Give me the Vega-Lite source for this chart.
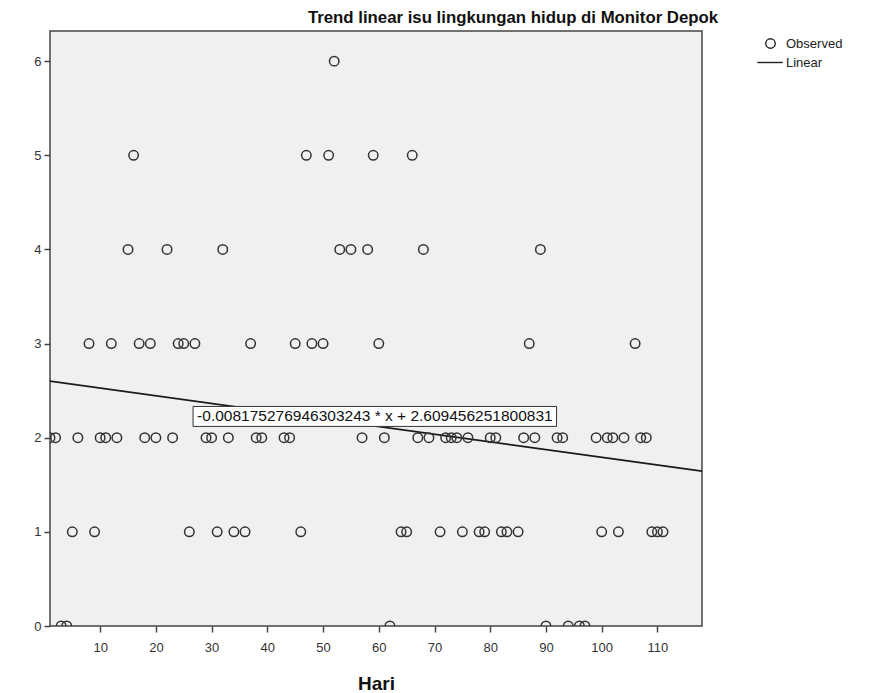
{
  "$schema": "https://vega.github.io/schema/vega-lite/v6.json",
  "autosize": {"type": "none"},
  "width": 652,
  "height": 595,
  "padding": {"left": 50, "top": 31, "right": 174, "bottom": 67},
  "background": "white",
  "title": {
    "text": "Trend linear isu lingkungan hidup di Monitor Depok",
    "anchor": "middle",
    "frame": "group",
    "dx": 137,
    "offset": 4,
    "font": "Liberation Sans",
    "fontSize": 16.8,
    "fontWeight": "bold",
    "color": "#111"
  },
  "config": {
    "view": {"fill": "#f0f0f0", "stroke": "#444", "strokeWidth": 1.5},
    "axis": {
      "labelFont": "Liberation Sans",
      "labelFontSize": 13,
      "labelColor": "#333",
      "tickColor": "#444",
      "tickWidth": 1.5,
      "tickSize": 6,
      "domain": false,
      "grid": false
    },
    "legend": {
      "labelFont": "Liberation Sans",
      "labelFontSize": 13,
      "labelColor": "#222"
    }
  },
  "datasets": {
    "obs": [
      {"Hari": 3, "Nilai": 0}, {"Hari": 4, "Nilai": 0}, {"Hari": 62, "Nilai": 0}, {"Hari": 90, "Nilai": 0},
      {"Hari": 94, "Nilai": 0}, {"Hari": 96, "Nilai": 0}, {"Hari": 97, "Nilai": 0},
      {"Hari": 5, "Nilai": 1}, {"Hari": 9, "Nilai": 1}, {"Hari": 26, "Nilai": 1}, {"Hari": 31, "Nilai": 1},
      {"Hari": 34, "Nilai": 1}, {"Hari": 36, "Nilai": 1}, {"Hari": 46, "Nilai": 1}, {"Hari": 64, "Nilai": 1},
      {"Hari": 65, "Nilai": 1}, {"Hari": 71, "Nilai": 1}, {"Hari": 75, "Nilai": 1}, {"Hari": 78, "Nilai": 1},
      {"Hari": 79, "Nilai": 1}, {"Hari": 82, "Nilai": 1}, {"Hari": 83, "Nilai": 1}, {"Hari": 85, "Nilai": 1},
      {"Hari": 100, "Nilai": 1}, {"Hari": 103, "Nilai": 1}, {"Hari": 109, "Nilai": 1}, {"Hari": 110, "Nilai": 1},
      {"Hari": 111, "Nilai": 1},
      {"Hari": 1, "Nilai": 2}, {"Hari": 2, "Nilai": 2}, {"Hari": 6, "Nilai": 2}, {"Hari": 10, "Nilai": 2},
      {"Hari": 11, "Nilai": 2}, {"Hari": 13, "Nilai": 2}, {"Hari": 18, "Nilai": 2}, {"Hari": 20, "Nilai": 2},
      {"Hari": 23, "Nilai": 2}, {"Hari": 29, "Nilai": 2}, {"Hari": 30, "Nilai": 2}, {"Hari": 33, "Nilai": 2},
      {"Hari": 38, "Nilai": 2}, {"Hari": 39, "Nilai": 2}, {"Hari": 43, "Nilai": 2}, {"Hari": 44, "Nilai": 2},
      {"Hari": 57, "Nilai": 2}, {"Hari": 61, "Nilai": 2}, {"Hari": 67, "Nilai": 2}, {"Hari": 69, "Nilai": 2},
      {"Hari": 72, "Nilai": 2}, {"Hari": 73, "Nilai": 2}, {"Hari": 74, "Nilai": 2}, {"Hari": 76, "Nilai": 2},
      {"Hari": 80, "Nilai": 2}, {"Hari": 81, "Nilai": 2}, {"Hari": 86, "Nilai": 2}, {"Hari": 88, "Nilai": 2},
      {"Hari": 92, "Nilai": 2}, {"Hari": 93, "Nilai": 2}, {"Hari": 99, "Nilai": 2}, {"Hari": 101, "Nilai": 2},
      {"Hari": 102, "Nilai": 2}, {"Hari": 104, "Nilai": 2}, {"Hari": 107, "Nilai": 2}, {"Hari": 108, "Nilai": 2},
      {"Hari": 8, "Nilai": 3}, {"Hari": 12, "Nilai": 3}, {"Hari": 17, "Nilai": 3}, {"Hari": 19, "Nilai": 3},
      {"Hari": 24, "Nilai": 3}, {"Hari": 25, "Nilai": 3}, {"Hari": 27, "Nilai": 3}, {"Hari": 37, "Nilai": 3},
      {"Hari": 45, "Nilai": 3}, {"Hari": 48, "Nilai": 3}, {"Hari": 50, "Nilai": 3}, {"Hari": 60, "Nilai": 3},
      {"Hari": 87, "Nilai": 3}, {"Hari": 106, "Nilai": 3},
      {"Hari": 15, "Nilai": 4}, {"Hari": 22, "Nilai": 4}, {"Hari": 32, "Nilai": 4}, {"Hari": 53, "Nilai": 4},
      {"Hari": 55, "Nilai": 4}, {"Hari": 58, "Nilai": 4}, {"Hari": 68, "Nilai": 4}, {"Hari": 89, "Nilai": 4},
      {"Hari": 16, "Nilai": 5}, {"Hari": 47, "Nilai": 5}, {"Hari": 51, "Nilai": 5}, {"Hari": 59, "Nilai": 5},
      {"Hari": 66, "Nilai": 5},
      {"Hari": 52, "Nilai": 6}
    ],
    "fit": [
      {"Hari": 1, "Nilai": 2.60128},
      {"Hari": 118, "Nilai": 1.64477}
    ],
    "label": [
      {"eq": "-0.008175276946303243 * x + 2.609456251800831"}
    ]
  },
  "layer": [
    {
      "data": {"name": "fit"},
      "mark": {"type": "line", "color": "#1a1a1a", "strokeWidth": 1.7, "clip": true},
      "encoding": {
        "x": {
          "field": "Hari", "type": "quantitative",
          "scale": {"domain": [1, 118], "nice": false, "zero": false},
          "axis": {
            "values": [10, 20, 30, 40, 50, 60, 70, 80, 90, 100, 110],
            "title": "Hari",
            "titleFont": "Liberation Sans",
            "titleFontSize": 19,
            "titleFontWeight": "bold",
            "titleColor": "#111",
            "titlePadding": 20,
            "labelPadding": 9
          }
        },
        "y": {
          "field": "Nilai", "type": "quantitative",
          "scale": {"domain": [0, 6.32], "nice": false},
          "axis": {"values": [0, 1, 2, 3, 4, 5, 6], "format": "d", "title": null, "labelPadding": 3}
        }
      }
    },
    {
      "data": {"name": "obs"},
      "transform": [{"calculate": "'Observed'", "as": "Seri"}],
      "mark": {"type": "point", "filled": false, "stroke": "#333", "strokeWidth": 1.5, "size": 90, "opacity": 1, "clip": true},
      "encoding": {
        "x": {"field": "Hari", "type": "quantitative"},
        "y": {"field": "Nilai", "type": "quantitative"},
        "shape": {
          "field": "Seri", "type": "nominal",
          "scale": {"domain": ["Observed", "Linear"], "range": ["circle", "M-2.8,0H2.6"]},
          "legend": {
            "title": null,
            "orient": "right",
            "offset": 56,
            "padding": 6,
            "symbolStrokeColor": "#222",
            "symbolFillColor": "transparent",
            "symbolStrokeWidth": 1.4,
            "symbolSize": 90,
            "rowPadding": 4,
            "labelOffset": 9
          }
        }
      }
    },
    {
      "data": {"name": "label"},
      "mark": {"type": "rect", "fill": "white", "stroke": "#333", "strokeWidth": 1},
      "encoding": {
        "x": {"datum": 26.67, "type": "quantitative"},
        "x2": {"datum": 91.9},
        "y": {"datum": 2.332, "type": "quantitative"},
        "y2": {"datum": 2.12}
      }
    },
    {
      "data": {"name": "label"},
      "mark": {"type": "text", "font": "Liberation Sans", "fontSize": 15.5, "color": "#111", "align": "center", "baseline": "middle"},
      "encoding": {
        "x": {"datum": 59.3, "type": "quantitative"},
        "y": {"datum": 2.226, "type": "quantitative"},
        "text": {"field": "eq"}
      }
    }
  ]
}
